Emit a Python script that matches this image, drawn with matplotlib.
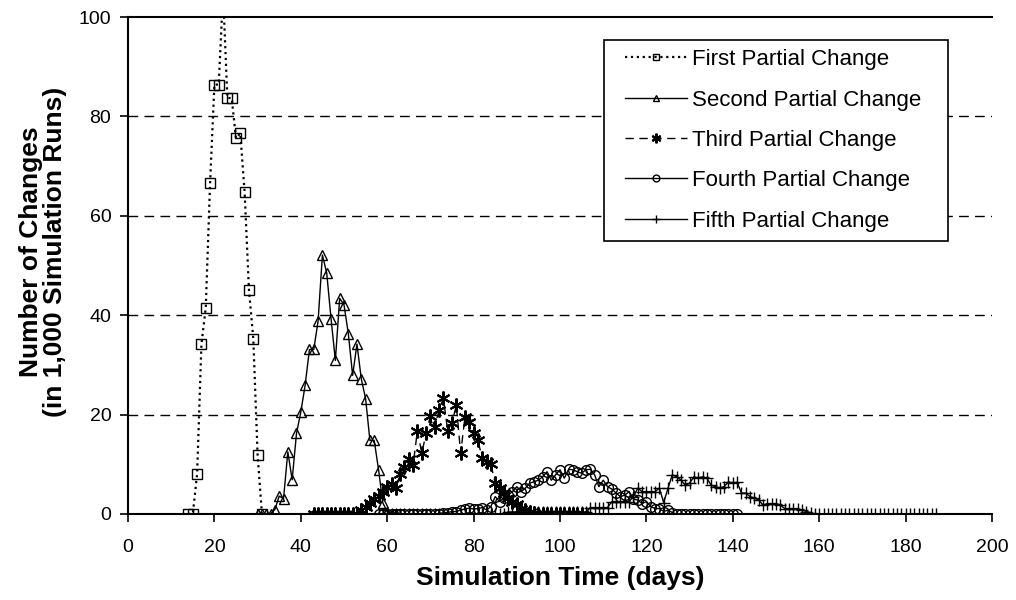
import matplotlib
matplotlib.use("Agg")
import matplotlib.pyplot as plt
from matplotlib.lines import Line2D
from matplotlib.legend_handler import HandlerLine2D

plt.rcParams['font.family'] = ['Liberation Sans', 'DejaVu Sans']

# ---- data (day, number of changes per 1,000 runs) ----
first_days = list(range(14, 32))
first_vals = [0, 0, 8.1, 34.2, 41.5, 66.6, 86.4, 86.4, 105, 83.7, 83.7,
              75.6, 76.6, 64.7, 45.1, 35.3, 11.9, 0]

second_days = list(range(30, 63))
second_vals = [0, 0, 0, 0, 0.9, 3.6, 3.1, 12.5, 6.9, 16.2, 20.5, 25.9, 33.1,
               33.1, 38.8, 52.1, 48.5, 39.3, 30.9, 43.4, 42.1, 36.3, 27.9,
               34.2, 27.2, 23.2, 14.8, 14.8, 8.9, 2.2, 0.5, 0, 0]

third_days = list(range(43, 106))
third_vals = ([0] * 11 +
              [0.8, 1.5, 2.2, 3.0, 3.6, 4.5, 5.5, 6.0, 5.3, 8.0, 9.5, 11.0,
               9.9, 16.8, 12.2, 16.2, 19.8, 17.6, 20.9, 23.3, 16.8, 18.3,
               21.9, 12.2, 19.5, 18.6, 16.2, 14.8, 11.2, 10.5, 10.0, 6.2,
               5.2, 4.2, 3.3, 2.5, 2.1, 1.1, 0.8, 0.5, 0.3] +
              [0] * 11)

fourth_days = list(range(58, 142))
fourth_vals = ([0] * 15 +
               [0.3, 0.3, 0.5, 0.5, 0.8, 1.0, 1.2, 1.0, 1.1, 1.3, 0.8, 1.5,
                3.5, 2.5, 3.2, 3.8, 4.5, 5.5, 4.5, 5.2, 6.2, 6.5, 6.8, 7.5,
                8.5, 6.8, 7.9, 8.9, 7.2, 9.0, 8.9, 8.5, 8.2, 8.9, 9.0, 7.9,
                5.5, 6.8, 5.5, 5.0, 4.2, 3.5, 3.8, 4.5, 3.0, 2.8, 2.1, 2.5,
                1.5, 1.1, 1.1, 0.5, 0.8, 0.3] +
               [0] * 15)

fifth_days = list(range(58, 188))
fifth_vals = ([0] * 30 +
              [0.4] * 19 +
              [1.3, 1.3, 1.3, 1.3, 1.3, 2.5, 2.5, 2.5, 2.5, 2.5, 3.5, 5.2,
               4.5, 4.5, 4.5, 4.5, 5.2, 2.3, 5.2, 7.9, 7.5, 6.8, 5.8, 6.2,
               7.5, 7.2, 7.5, 7.2, 5.8, 5.5, 5.2, 5.5, 6.5, 6.2, 6.4, 4.2,
               4.2, 3.5, 3.2, 2.8, 1.8, 2.1, 2.1, 2.1, 1.8, 1.1, 1.1, 1.1,
               1.1, 0.8, 0.5, 0.3] +
              [0] * 29)

labels = ["First Partial Change", "Second Partial Change", "Third Partial Change",
          "Fourth Partial Change", "Fifth Partial Change"]

fig = plt.figure(figsize=(10.16, 6.0), dpi=100)
ax = fig.add_axes([128 / 1016, 1 - 514 / 600, 864 / 1016, 497 / 600])

# dashed gridlines
for yv in [20, 40, 60, 80]:
    ax.axhline(yv, color="black", lw=1.0, linestyle=(0, (7, 4.5)), zorder=1)

common = dict(color="black", lw=1.0, mfc="none", mec="black", mew=1.0)
ax.plot(first_days, first_vals, linestyle=":", lw=1.6, marker="s", ms=6.5,
        color="black", mfc="none", mec="black", mew=1.0, label=labels[0])
ax.plot(second_days, second_vals, linestyle="-", marker="^", ms=7, label=labels[1], **common)
ax.plot(third_days, third_vals, linestyle=(0, (6, 4)), marker=(6, 2, 0), ms=10,
        color="black", lw=1.0, mec="black", mew=1.5, label=labels[2])
ax.plot(fourth_days, fourth_vals, linestyle="-", marker="o", ms=7, label=labels[3], **common)
ax.plot(fifth_days, fifth_vals, linestyle="-", marker="+", ms=9, label=labels[4], **common)

ax.set_xlim(0, 200)
ax.set_ylim(0, 100)
ax.set_xticks(range(0, 201, 20))
ax.set_yticks(range(0, 101, 20))
ax.tick_params(direction="out", length=6, width=1.2, labelsize=14, pad=6, color="black")
ax.tick_params(axis="x", pad=12)

for side in ["left", "bottom", "top"]:
    ax.spines[side].set_linewidth(1.5)
    ax.spines[side].set_color("black")
ax.spines["right"].set_visible(False)

ax.set_xlabel("Simulation Time (days)", fontsize=19, fontweight="bold")
ax.set_ylabel("Number of Changes\n(in 1,000 Simulation Runs)", fontsize=19,
              fontweight="bold", linespacing=1.0)
ax.xaxis.set_label_coords(0.5, -0.105)
ax.yaxis.set_label_coords(-0.071, 0.527)

leg = ax.legend(loc="upper left", bbox_to_anchor=(0.551, 0.5, 0.398, 0.454),
                mode="expand", borderaxespad=0,
                fontsize=16, frameon=True, fancybox=False, edgecolor="black",
                framealpha=1, markerscale=0.7, handlelength=3.33,
                handletextpad=0.22, labelspacing=0.87, borderpad=0.42,
                handler_map={Line2D: HandlerLine2D(xpad=0.54)})
leg.get_frame().set_linewidth(1.2)

fig.savefig("out.png", dpi=100)
